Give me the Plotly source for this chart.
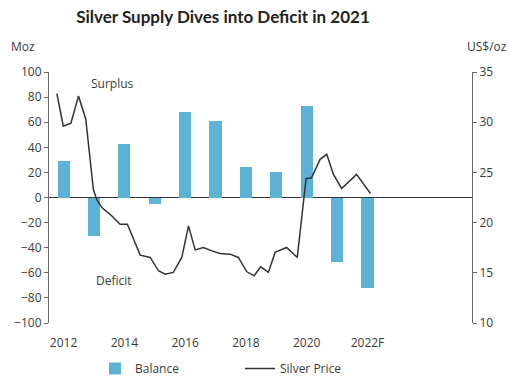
import plotly.graph_objects as go

# Data
years = [2012, 2013, 2014, 2015, 2016, 2017, 2018, 2019, 2020, 2021, 2022]
balance = [29, -31, 43, -5, 68, 61, 24, 20, 73, -51, -72]

price_t = [2011.78, 2011.99, 2012.24, 2012.49, 2012.73, 2012.98, 2013.09, 2013.26,
           2013.59, 2013.86, 2014.10, 2014.52, 2014.85, 2015.12, 2015.34, 2015.61,
           2015.89, 2016.11, 2016.33, 2016.60, 2016.88, 2017.15, 2017.48, 2017.75,
           2018.03, 2018.27, 2018.49, 2018.74, 2018.96, 2019.34, 2019.69, 2019.98,
           2020.16, 2020.44, 2020.66, 2020.88, 2021.15, 2021.64, 2022.10]
price = [32.85, 29.6, 29.9, 32.6, 30.3, 23.3, 22.3, 21.5,
         20.66, 19.84, 19.84, 16.76, 16.53, 15.2, 14.87, 15.04,
         16.53, 19.67, 17.28, 17.52, 17.18, 16.93, 16.86, 16.53,
         15.1, 14.7, 15.6, 15.04, 17.03, 17.52, 16.53, 24.37,
         24.47, 26.3, 26.8, 24.8, 23.4, 24.8, 22.9]

x_tickvals = [2012, 2014, 2016, 2018, 2020, 2022]
x_ticktext = ["2012", "2014", "2016", "2018", "2020", "2022F"]
left_ticks = list(range(-100, 101, 20))
right_ticks = [10, 15, 20, 25, 30, 35]

FONT = "Open Sans"
TXT = "#3a3a3a"
AX = "#666666"

fig = go.Figure()
fig.add_trace(go.Bar(x=years, y=balance, name="Balance", width=0.4,
                     marker=dict(color="#5DB3D6", line=dict(width=0)), yaxis="y"))
fig.add_trace(go.Scatter(x=price_t, y=price, name="Silver Price", mode="lines",
                         line=dict(color="#333333", width=1.5), yaxis="y2"))

fig.update_layout(
    width=510, height=377,
    margin=dict(l=49, r=38, t=72, b=54, autoexpand=False),
    paper_bgcolor="white", plot_bgcolor="white",
    font=dict(family=FONT, size=12, color=TXT),
    showlegend=True,
    bargap=0,
    title=dict(text="<b>Silver Supply Dives into Deficit in 2021</b>",
               x=223/510, xanchor="center", y=1-17/377, yanchor="middle",
               font=dict(family="Lato", size=17, color="#222222")),
    xaxis=dict(range=[2011.52, 2025.44], tickvals=x_tickvals, ticktext=x_ticktext,
               showgrid=False, zeroline=False, showline=False, ticks="outside",
               ticklen=9, tickcolor="rgba(0,0,0,0)", automargin=False,
               tickfont=dict(size=12, color=TXT)),
    yaxis=dict(range=[-100, 100], tickvals=left_ticks, showgrid=False,
               zeroline=True, zerolinecolor="#333333", zerolinewidth=1.2,
               showline=True, linecolor=AX, linewidth=1, ticks="outside",
               ticklen=4, tickcolor=AX, automargin=False,
               tickfont=dict(size=12, color=TXT)),
    yaxis2=dict(range=[10, 35], tickvals=right_ticks, overlaying="y", side="right",
                showgrid=False, zeroline=False, showline=True, linecolor=AX,
                linewidth=1, ticks="outside", ticklen=4, tickcolor=AX, automargin=False,
                tickfont=dict(size=12, color=TXT)),
    legend=dict(orientation="h", x=(95-49)/423, xanchor="left",
                yref="container", y=1 - 354/377, yanchor="top",
                font=dict(size=12, color=TXT), entrywidth=100, entrywidthmode="pixels",
                bgcolor="rgba(0,0,0,0)", borderwidth=0),
    annotations=[
        dict(text="Moz", xref="paper", yref="paper", x=-49/423 + 9/423, y=1 + (72-46)/251,
             xanchor="left", yanchor="middle", showarrow=False, font=dict(size=12, color=TXT)),
        dict(text="US$/oz", xref="paper", yref="paper", x=(509-49)/423, y=1 + (72-46)/251,
             xanchor="right", yanchor="middle", showarrow=False, font=dict(size=12, color=TXT)),
        dict(text="Surplus", xref="x", yref="y", x=2013.6, y=91, showarrow=False,
             font=dict(size=12, color=TXT)),
        dict(text="Deficit", xref="x", yref="y", x=2013.65, y=-66, showarrow=False,
             font=dict(size=12, color=TXT)),
    ],
)

fig.write_html("out.html")
